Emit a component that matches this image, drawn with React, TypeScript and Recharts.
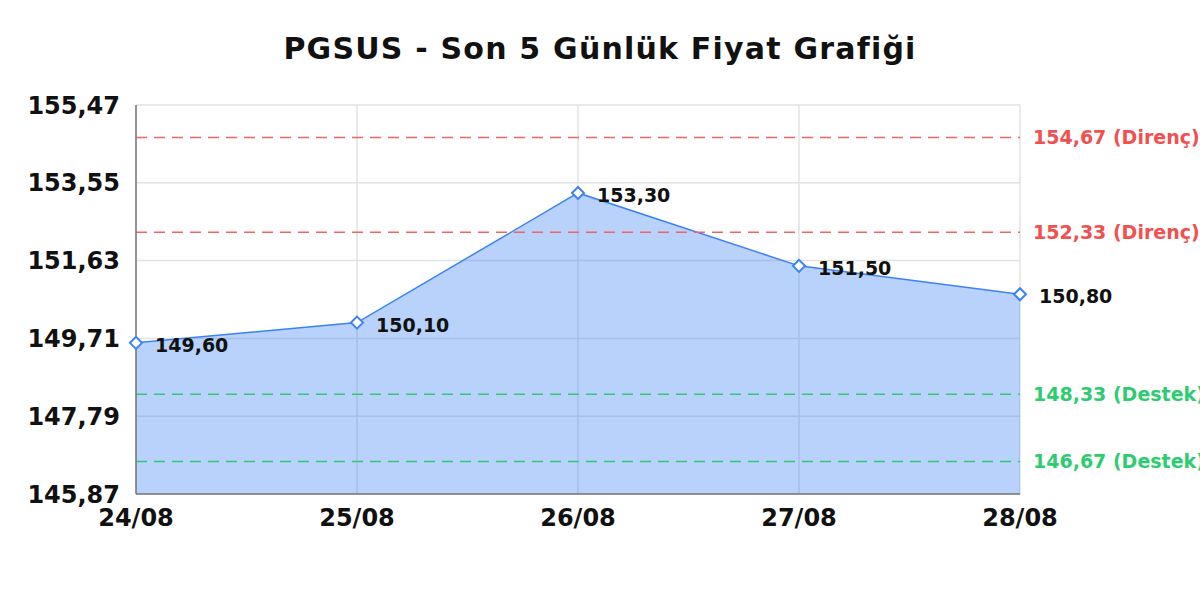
import React from 'react';
import { AreaChart, Area, XAxis, YAxis, CartesianGrid, ReferenceLine } from 'recharts';

const dates = ['24/08', '25/08', '26/08', '27/08', '28/08'];
const prices = [149.6, 150.1, 153.3, 151.5, 150.8];
const yTicks = [145.87, 147.79, 149.71, 151.63, 153.55, 155.47];
const resistance = [154.67, 152.33];
const support = [148.33, 146.67];

const FONT = '"DejaVu Sans", sans-serif';
const fmt = (v: number) => v.toFixed(2).replace('.', ',');

const data = dates.map((d, i) => ({ date: d, price: prices[i] }));

function Diamond({ cx, cy }: { cx?: number; cy?: number }) {
  if (cx == null || cy == null) return null;
  const r = 6;
  return (
    <path
      d={`M${cx},${cy - r} L${cx + r},${cy} L${cx},${cy + r} L${cx - r},${cy} Z`}
      fill="#fff"
      stroke="#3b82f6"
      strokeWidth={2}
    />
  );
}

function PointLabel(props: { x?: number; y?: number; value?: number }) {
  const { x, y, value } = props;
  if (x == null || y == null || value == null) return null;
  return (
    <text x={x + 19} y={y + 9} fontFamily={FONT} fontWeight="bold" fontSize={19} fill="#111">
      {fmt(value)}
    </text>
  );
}

export default function App() {
  return (
    <div style={{ position: 'absolute', left: 0, top: 0, width: 1200, height: 600, background: '#fff' }}>
      <div
        style={{
          position: 'absolute',
          left: 0,
          top: 29,
          width: 1200,
          textAlign: 'center',
          fontFamily: FONT,
          fontWeight: 'bold',
          fontSize: 30,
          letterSpacing: 1.2,
          lineHeight: '40px',
          color: '#111',
        }}
      >
        PGSUS - Son 5 Günlük Fiyat Grafiği
      </div>
      <AreaChart
        width={1200}
        height={600}
        data={data}
        margin={{ top: 105, right: 180, left: 26, bottom: 76 }}
      >
        <CartesianGrid stroke="#e2e2e2" strokeWidth={1.5} />
        <XAxis
          dataKey="date"
          axisLine={{ stroke: '#777', strokeWidth: 1.5 }}
          tickLine={false}
          tickMargin={9}
          interval={0}
          tick={{ fontSize: 24, fontWeight: 'bold', fill: '#111', fontFamily: FONT }}
        />
        <YAxis
          domain={[145.87, 155.47]}
          ticks={yTicks}
          width={110}
          axisLine={{ stroke: '#777', strokeWidth: 1.5 }}
          tickLine={false}
          tickMargin={10}
          tickFormatter={fmt}
          tick={{ fontSize: 24, fontWeight: 'bold', fill: '#111', fontFamily: FONT }}
        />
        <Area
          type="linear"
          dataKey="price"
          stroke="#3b82f6"
          strokeWidth={1.5}
          fill="#3b82f6"
          fillOpacity={0.36}
          dot={<Diamond />}
          activeDot={false}
          label={<PointLabel />}
          isAnimationActive={false}
        />
        {resistance.map((v) => (
          <ReferenceLine
            key={`r-${v}`}
            y={v}
            stroke="#f06464"
            strokeWidth={1.5}
            strokeDasharray="11 7"
            label={{
              value: `${fmt(v)} (Direnç)`,
              position: 'right',
              offset: 13,
              fill: '#f05050',
              fontSize: 19,
              fontWeight: 'bold',
              fontFamily: FONT,
            }}
          />
        ))}
        {support.map((v) => (
          <ReferenceLine
            key={`s-${v}`}
            y={v}
            stroke="#2ecc71"
            strokeWidth={1.5}
            strokeDasharray="11 7"
            label={{
              value: `${fmt(v)} (Destek)`,
              position: 'right',
              offset: 13,
              fill: '#2ecc71',
              fontSize: 19,
              fontWeight: 'bold',
              fontFamily: FONT,
            }}
          />
        ))}
      </AreaChart>
    </div>
  );
}
